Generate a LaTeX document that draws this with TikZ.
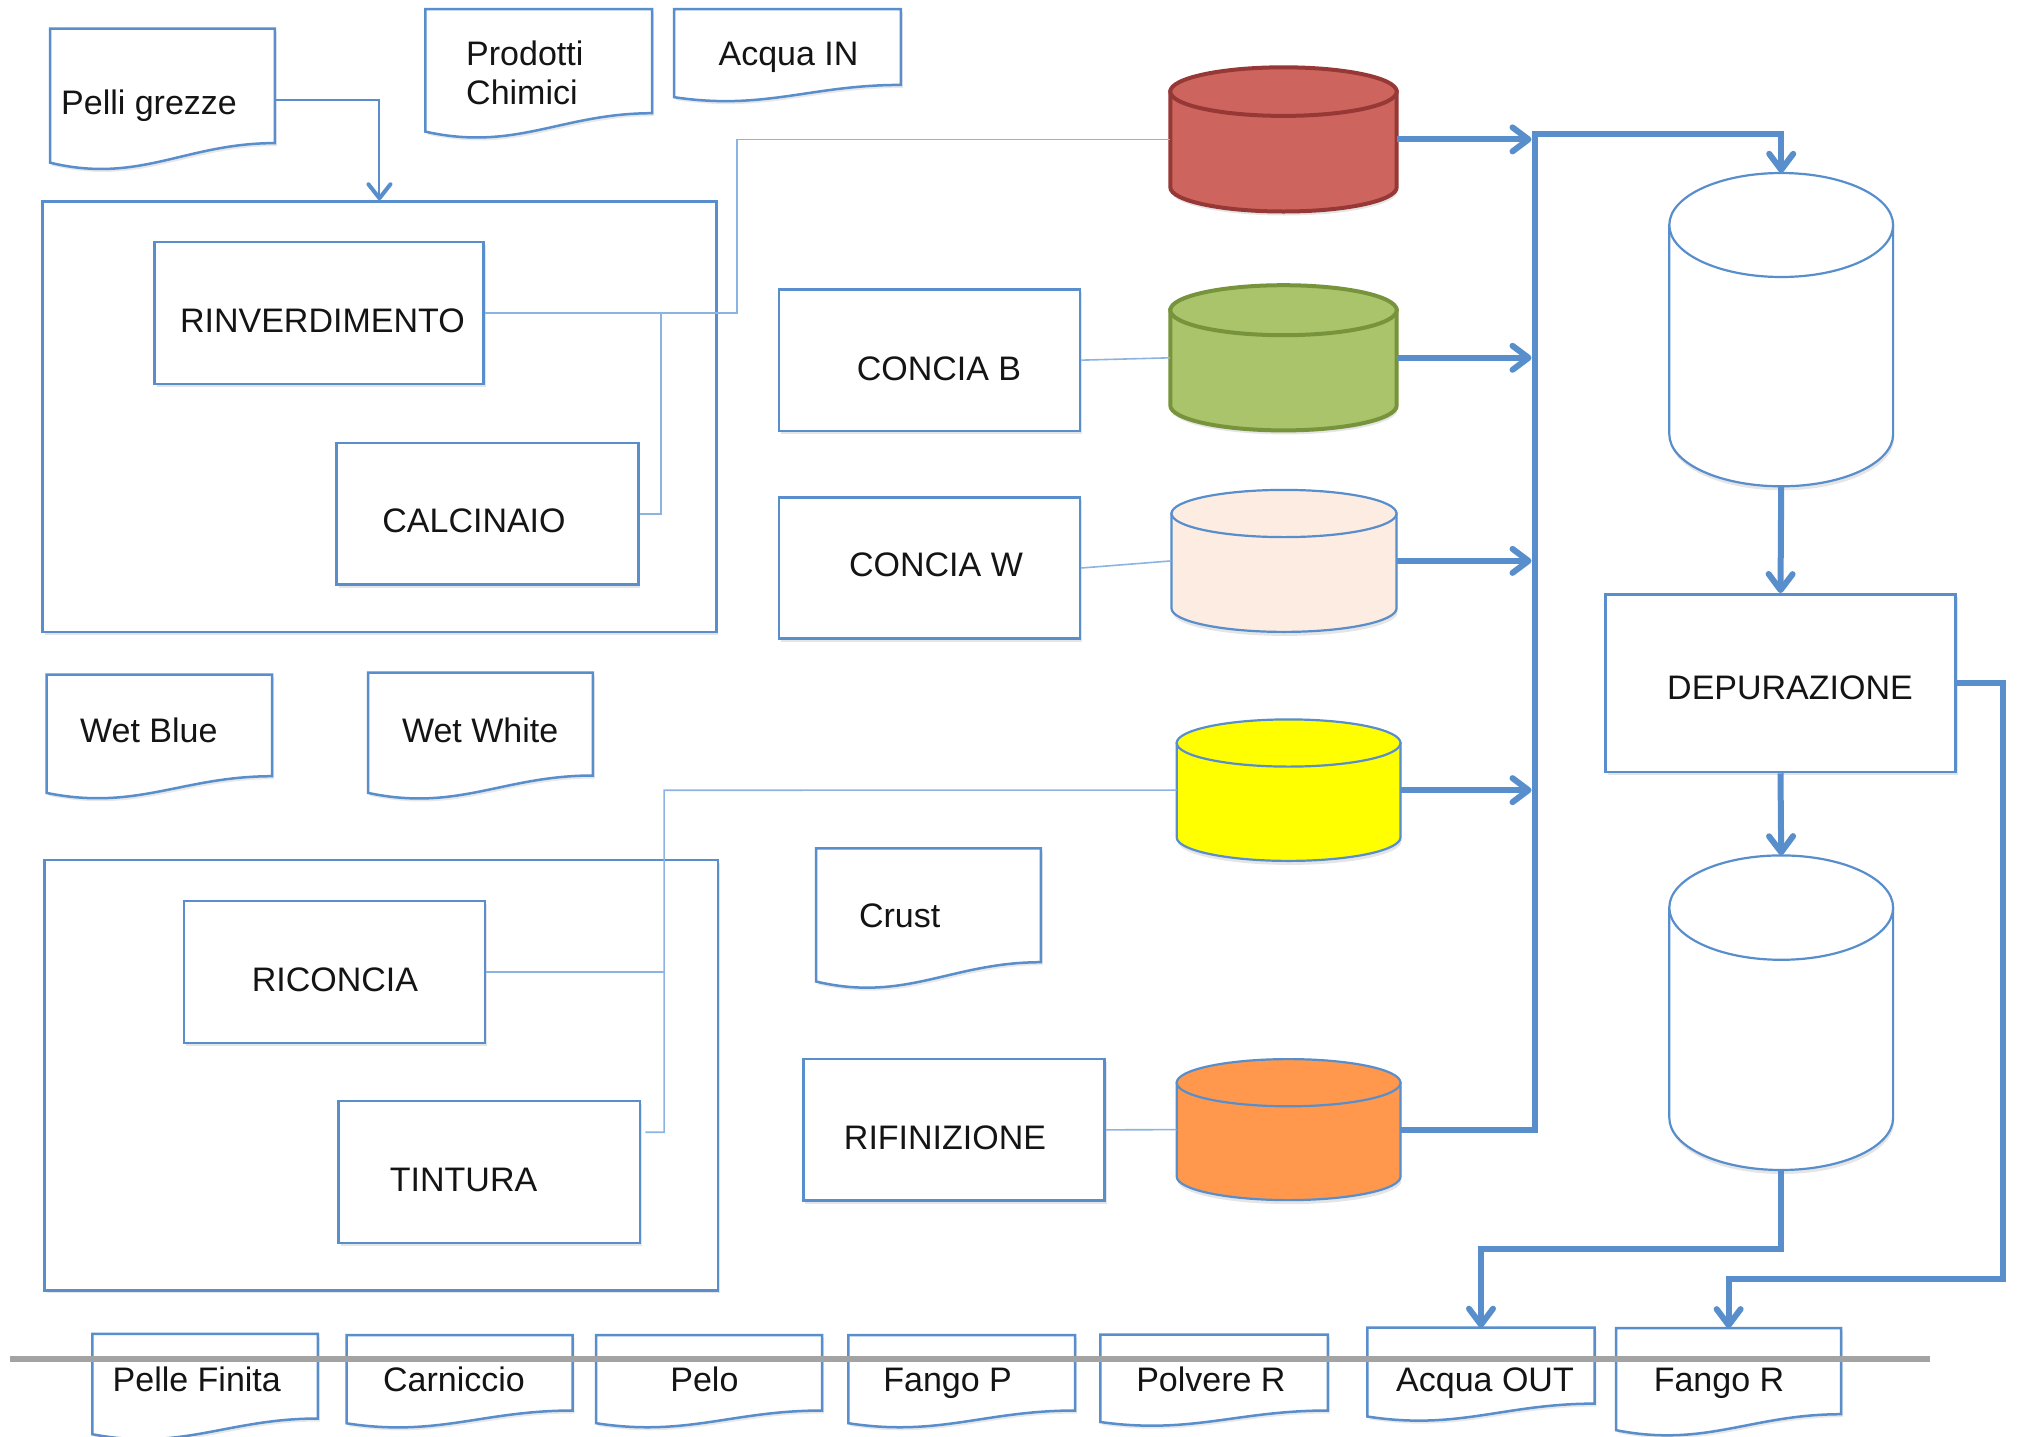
\documentclass[tikz,border=0pt]{standalone}
\usepackage{fontspec}
\setmainfont{Liberation Sans}
\usetikzlibrary{arrows.meta,calc,shadows}
\definecolor{bblue}{RGB}{88,142,204}
\definecolor{lblue}{RGB}{140,180,226}
\definecolor{redfill}{RGB}{205,101,94}
\definecolor{redline}{RGB}{150,56,53}
\definecolor{greenfill}{RGB}{169,196,106}
\definecolor{greenline}{RGB}{119,147,60}
\definecolor{peachfill}{RGB}{252,236,225}
\definecolor{orangefill}{RGB}{255,152,76}
\definecolor{yellowfill}{RGB}{255,255,0}
\definecolor{rulegray}{RGB}{163,163,163}
\tikzset{
  lbl/.style={font=\fontsize{34}{39}\selectfont, inner sep=0pt, text=black!92},
  procbox/.style={draw=bblue, line width=2.5pt, fill=white, inner sep=0pt,
    drop shadow={shadow xshift=2pt, shadow yshift=-3pt, fill=black, opacity=0.1}},
  docarea/.style={inner sep=0pt, draw=none},
  docline/.style={draw=bblue, line width=2.5pt, fill=white},
  thinconn/.style={draw=lblue, line width=1.6pt},
  pelliconn/.style={draw=bblue, line width=2pt, -{Straight Barb[length=14pt,width=22pt,line width=4pt,round]}},
  thickconn/.style={draw=bblue, line width=6pt},
  tipend/.style={-{Straight Barb[length=16pt,width=24pt,round]}},
  redcyl/.style={fill=redfill, draw=redline, line width=4pt},
  greencyl/.style={fill=greenfill, draw=greenline, line width=4pt},
  peachcyl/.style={fill=peachfill, draw=bblue, line width=2.2pt},
  yellowcyl/.style={fill=yellowfill, draw=bblue, line width=2.2pt},
  orangecyl/.style={fill=orangefill, draw=bblue, line width=2.2pt},
  whitecyl/.style={fill=white, draw=bblue, line width=2.2pt},
  rulestyle/.style={draw=rulegray, line width=5.5pt},
}
% #1 name, #2 cx, #3 top-ellipse centre y, #4 bottom centre y, #5 rx, #6 ry, #7 style
\newcommand{\mycyl}[7]{%
  \path[fill=black, opacity=0.1, transform canvas={xshift=1pt,yshift=-4pt}]
    (#2-#5,#3) -- (#2-#5,#4) arc[start angle=180,end angle=0,x radius=#5,y radius=#6] -- (#2+#5,#3) -- cycle;
  \path[#7] (#2-#5,#3) -- (#2-#5,#4) arc[start angle=180,end angle=0,x radius=#5,y radius=#6] -- (#2+#5,#3) -- cycle;
  \path[#7] (#2,#3) ellipse[x radius=#5, y radius=#6];
  \node[inner sep=0pt, minimum width={2*#5}, minimum height={#4-#3+2*#6}] (#1) at (#2,{(#3+#4)/2}) {};
}
% #1 name, #2 cx, #3 cy, #4 w, #5 h (to right bottom), #6 extra depth at left
\newcommand{\mydoc}[6]{%
  \node[docarea, minimum width=#4, minimum height=#5] (#1) at (#2,#3) {};
  \path[fill=black, opacity=0.09, transform canvas={xshift=2pt,yshift=-3pt}]
    (#1.south east) -- (#1.north east) -- (#1.north west) -- ([yshift=-#6pt]#1.south west)
    .. controls ($(#1.south west)!0.4!(#1.south east)+(0,2.1*#6)$) and ($(#1.south west)!0.6!(#1.south east)$) .. (#1.south east) -- cycle;
  \path[docline]
    (#1.south east) -- (#1.north east) -- (#1.north west) -- ([yshift=-#6pt]#1.south west)
    .. controls ($(#1.south west)!0.4!(#1.south east)+(0,2.1*#6)$) and ($(#1.south west)!0.6!(#1.south east)$) .. (#1.south east) -- cycle;
}
\begin{document}
\begin{tikzpicture}[x=1pt,y=-1pt]
\fill[white] (0,0) rectangle (2022,1436);
\useasboundingbox (0,0) rectangle (2022,1436);

% containers
\node[procbox, minimum width=673.7, minimum height=430.4] (box1) at (379.45,416.7) {};
\node[procbox, minimum width=673.7, minimum height=430.4] (box2) at (381.35,1075.1) {};

% process boxes
\node[procbox, minimum width=328.9, minimum height=142] (rinv) at (319.15,313.2) {};
\node[procbox, minimum width=301.7, minimum height=141.9] (calc) at (487.45,513.75) {};
\node[procbox, minimum width=301.1, minimum height=141.5] (cb) at (929.45,360.15) {};
\node[procbox, minimum width=301.1, minimum height=141.4] (cw) at (929.45,568) {};
\node[procbox, minimum width=350, minimum height=177.7] (dep) at (1780.5,683.15) {};
\node[procbox, minimum width=301, minimum height=141.9] (rico) at (334.3,972.15) {};
\node[procbox, minimum width=301.7, minimum height=142] (tint) at (489.35,1172.2) {};
\node[procbox, minimum width=301.1, minimum height=141.5] (rif) at (953.95,1129.85) {};

% documents
\mydoc{pelli}{162.5}{85.85}{224.4}{114.1}{19.6}
\mydoc{prod}{538.65}{61.1}{226.3}{103.8}{18.4}
\mydoc{ain}{787.55}{46.95}{226.3}{75.5}{12.3}
\mydoc{wblue}{159.35}{725.35}{225.1}{101.3}{16.7}
\mydoc{wwhite}{480.45}{724}{224.3}{102.6}{17.4}
\mydoc{crust}{928.45}{905.25}{224.5}{113.5}{19.3}
\mydoc{pfin}{205.05}{1376.15}{225.1}{84.3}{15.7}
\mydoc{carn}{459.7}{1372.75}{225.6}{75.1}{12.8}
\mydoc{pelo}{709.2}{1372.75}{225.6}{75.1}{12.7}
\mydoc{fangop}{961.65}{1372.75}{226.3}{75.1}{12.7}
\mydoc{polv}{1214.1}{1372.55}{227}{75.5}{11.5}
\mydoc{aout}{1481}{1365.65}{227}{75.5}{12.9}
\mydoc{fangor}{1728.6}{1371.15}{224.4}{85.7}{16}

% cylinders
\mycyl{red}{1283.5}{91.6}{187.2}{113.2}{24.3}{redcyl}
\mycyl{green}{1283.5}{310.2}{405.4}{113.2}{25}{greencyl}
\mycyl{peach}{1284}{513.5}{608.3}{112.5}{23.6}{peachcyl}
\mycyl{yellow}{1288.6}{743}{837.3}{111.9}{23.6}{yellowcyl}
\mycyl{orange}{1288.6}{1082.7}{1176.5}{111.9}{23.6}{orangecyl}
\mycyl{big1}{1781.2}{225}{434.3}{111.9}{52}{whitecyl}
\mycyl{big2}{1781.2}{907.6}{1117.8}{111.9}{52.2}{whitecyl}

% labels
\node[lbl, anchor=base west] (pelliT) at (61,114.5) {Pelli grezze};
\node[lbl, anchor=north west, align=left] (prodT) at (466,41) {Prodotti\\Chimici};
\node[lbl, anchor=base] (ainT) at (788.5,65.5) {Acqua IN};
\node[lbl, anchor=base] (rinvT) at (322.4,332.9) {RINVERDIMENTO};
\node[lbl, anchor=base] (calcT) at (474,532.5) {CALCINAIO};
\node[lbl, anchor=base] (cbT) at (939,380) {CONCIA B};
\node[lbl, anchor=base] (cwT) at (936,576) {CONCIA W};
\node[lbl, anchor=base] (depT) at (1790,699) {DEPURAZIONE};
\node[lbl, anchor=base] (wblueT) at (148.8,742.3) {Wet Blue};
\node[lbl, anchor=base] (wwhiteT) at (480.2,742.3) {Wet White};
\node[lbl, anchor=base] (ricoT) at (335,991.4) {RICONCIA};
\node[lbl, anchor=base] (tintT) at (463.6,1191) {TINTURA};
\node[lbl, anchor=base west] (crustT) at (858.8,927.7) {Crust};
\node[lbl, anchor=base] (rifT) at (945,1149.8) {RIFINIZIONE};
\node[lbl, anchor=base] (pfinT) at (196.8,1391) {Pelle Finita};
\node[lbl, anchor=base] (carnT) at (454,1391) {Carniccio};
\node[lbl, anchor=base] (peloT) at (704.4,1391) {Pelo};
\node[lbl, anchor=base] (fangopT) at (947.6,1391) {Fango P};
\node[lbl, anchor=base] (polvT) at (1210.9,1391) {Polvere R};
\node[lbl, anchor=base] (aoutT) at (1485,1391) {Acqua OUT};
\node[lbl, anchor=base] (fangorT) at (1719,1391) {Fango R};

% thin connectors
\draw[pelliconn] ([yshift=-13.95pt]pelli.east) -| (box1.north);
\draw[thinconn] (rinv.east) -- ++(252,0) |- (red.west);
\draw[thinconn] (calc.east) -- ++(21.3,0) |- (rinv.east);
\draw[thinconn] (cb.east) -- (green.west);
\draw[thinconn] (cw.east) -- (peach.west);
\coordinate (yk) at (664.1,790.2);
\draw[thinconn] (yellow.west) -- (yk) |- ([xshift=4pt,yshift=40pt]tint.east);
\draw[thinconn] (rico.east) -- (rico.east -| yk);
\draw[thinconn] (rif.east) -- (orange.west);

% thick connectors
\coordinate (busTop) at (1534.5,134.2);
\coordinate (busIn) at (1531.5,134.2);
\draw[thickconn, tipend] (red.east) -- (red.east -| busIn);
\draw[thickconn, tipend] (green.east) -- (green.east -| busIn);
\draw[thickconn, tipend] (peach.east) -- (peach.east -| busIn);
\draw[thickconn, tipend] (yellow.east) -- (yellow.east -| busIn);
\draw[thickconn, tipend] (orange.east) -- (orange.east -| busTop) -- (busTop) -| (big1.north);
\draw[thickconn, tipend] (big1.south) -- (dep.north);
\draw[thickconn, tipend] (dep.south) -- (big2.north);
\draw[thickconn, tipend] (big2.south) -- ++(0,79.1) -| (aout.north);
\draw[thickconn, tipend] (dep.east) -- ++(46.5,0) -- ++(0,595.8) -| (fangor.north);

% gray rule
\coordinate (gl) at (10.3,1358.8);
\coordinate (gr) at (1930.4,1358.8);
\draw[rulestyle] (gl) -- (gr);
\end{tikzpicture}
\end{document}
